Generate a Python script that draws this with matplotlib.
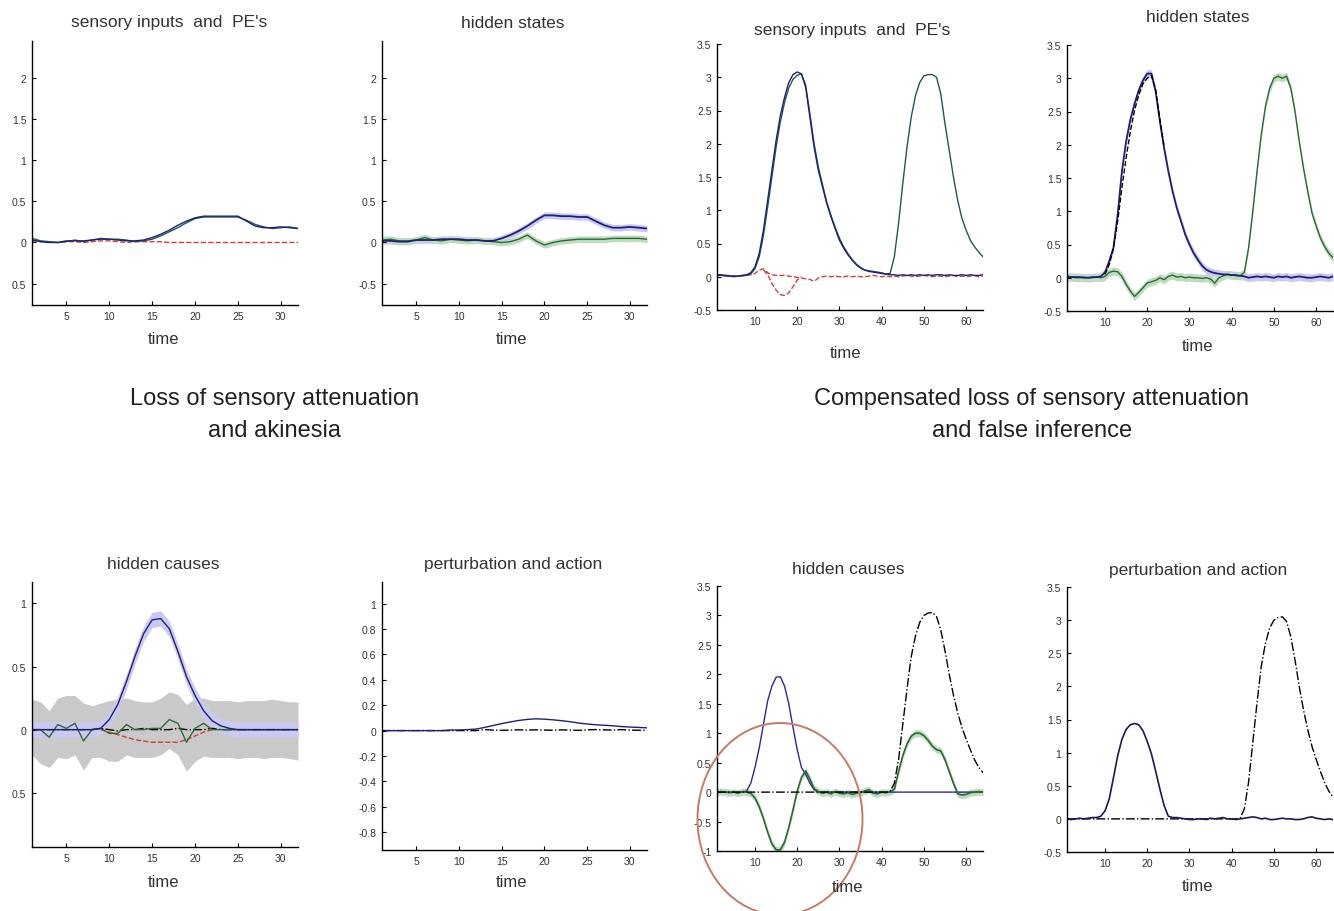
import numpy as np
import matplotlib
matplotlib.use("Agg")
import matplotlib.pyplot as plt
from matplotlib.patches import Ellipse
from matplotlib.ticker import FuncFormatter
from matplotlib import font_manager

plt.rcParams['font.family'] = ['Liberation Sans', 'DejaVu Sans']
plt.rcParams['axes.unicode_minus'] = False

W, H = 1334, 912

# time bins
t_left = np.arange(1, 33)
t_right = np.arange(1, 65)

# ---------------- left: loss of sensory attenuation and akinesia ----------------
# sensory inputs and PE's
sens_l_a = [0.03, 0.01, 0.00, 0.00, 0.02, 0.02, 0.02, 0.03,
            0.04, 0.04, 0.03, 0.02, 0.02, 0.03, 0.06, 0.10,
            0.15, 0.21, 0.26, 0.30, 0.32, 0.32, 0.32, 0.32,
            0.32, 0.26, 0.20, 0.18, 0.18, 0.19, 0.18, 0.17]
sens_l_b = [0.05, 0.02, 0.01, 0.00, 0.01, 0.03, 0.01, 0.03,
            0.05, 0.04, 0.04, 0.03, 0.01, 0.02, 0.04, 0.08,
            0.13, 0.18, 0.24, 0.29, 0.31, 0.31, 0.31, 0.31,
            0.31, 0.27, 0.22, 0.19, 0.17, 0.18, 0.19, 0.17]
pe_l = [0.02, 0.01, 0.01, 0.00, 0.01, 0.01, 0.00, 0.01,
        0.02, 0.02, 0.01, 0.00, 0.01, 0.01, 0.01, 0.01,
        0.00, 0.00, 0.00, 0.00, 0.00, 0.00, 0.00, 0.00,
        0.00, 0.00, 0.00, 0.00, 0.00, 0.00, 0.00, 0.00]

# hidden states
hs_l_blue = [0.02, 0.02, 0.01, 0.01, 0.03, 0.03, 0.03, 0.04,
             0.04, 0.04, 0.03, 0.03, 0.02, 0.02, 0.05, 0.09,
             0.14, 0.20, 0.27, 0.33, 0.33, 0.32, 0.32, 0.31,
             0.31, 0.26, 0.21, 0.18, 0.18, 0.19, 0.18, 0.17]
hs_l_green = [0.03, 0.04, 0.02, 0.02, 0.03, 0.06, 0.03, 0.02,
              0.04, 0.03, 0.02, 0.03, 0.02, 0.01, 0.00, 0.01,
              0.04, 0.09, 0.02, -0.03, 0.00, 0.02, 0.03, 0.04,
              0.04, 0.04, 0.04, 0.05, 0.05, 0.05, 0.05, 0.04]
hs_l_ci = 0.04

# hidden causes
hc_l_blue = [0.00, 0.00, 0.00, 0.00, 0.00, 0.00, 0.00, 0.00,
             0.01, 0.08, 0.20, 0.38, 0.58, 0.76, 0.87, 0.88,
             0.80, 0.62, 0.42, 0.27, 0.15, 0.07, 0.03, 0.01,
             0.00, 0.00, 0.00, 0.00, 0.00, 0.00, 0.00, 0.00]
hc_l_blue_ci = 0.06
hc_l_green = [0.00, 0.00, -0.06, 0.04, 0.01, 0.05, -0.09, 0.00,
              0.01, -0.03, -0.03, 0.04, 0.00, 0.00, 0.01, 0.01,
              0.08, 0.05, -0.10, 0.01, 0.05, 0.00, 0.00, 0.00,
              0.00, 0.00, 0.00, 0.00, 0.00, 0.00, 0.00, 0.00]
hc_l_grey_hi = [0.24, 0.22, 0.15, 0.25, 0.27, 0.27, 0.21, 0.19,
                0.21, 0.23, 0.24, 0.25, 0.23, 0.22, 0.22, 0.25,
                0.30, 0.28, 0.20, 0.25, 0.25, 0.23, 0.23, 0.23,
                0.22, 0.23, 0.23, 0.23, 0.24, 0.23, 0.22, 0.22]
hc_l_grey_lo = [-0.20, -0.27, -0.30, -0.22, -0.23, -0.20, -0.32, -0.22,
                -0.22, -0.25, -0.25, -0.20, -0.22, -0.22, -0.22, -0.20,
                -0.15, -0.20, -0.33, -0.25, -0.21, -0.22, -0.22, -0.22,
                -0.23, -0.22, -0.22, -0.23, -0.22, -0.22, -0.23, -0.24]
t_hc_l_pe = np.arange(9, 23)
hc_l_pe = [0.00, -0.02, -0.04, -0.06, -0.08, -0.09, -0.10,
           -0.10, -0.10, -0.10, -0.08, -0.05, -0.02, 0.00]
hc_l_true = [0.00, 0.00, 0.00, 0.00, 0.00, 0.00, 0.00, 0.00,
             0.01, 0.00, -0.01, 0.00, 0.00, 0.01, 0.00, 0.00,
             0.00, 0.01, 0.00, 0.00, 0.00, 0.01, 0.00, 0.00,
             0.00, 0.00, 0.00, 0.00, 0.00, 0.00, 0.00, 0.00]

# perturbation and action
pa_l_action = [0.000, 0.000, 0.000, 0.000, 0.000, 0.000, 0.000, 0.000,
               0.005, 0.005, 0.008, 0.012, 0.025, 0.040, 0.055, 0.068,
               0.080, 0.088, 0.093, 0.090, 0.085, 0.078, 0.070, 0.060,
               0.052, 0.046, 0.042, 0.038, 0.032, 0.028, 0.025, 0.022]
pa_l_pert = [0.000, 0.000, 0.000, 0.000, 0.000, 0.000, 0.000, 0.000,
             0.000, 0.000, 0.000, 0.000, 0.008, 0.004, 0.002, 0.004,
             0.006, 0.004, 0.006, 0.004, 0.003, 0.006, 0.004, 0.002,
             0.006, 0.008, 0.006, 0.004, 0.008, 0.004, 0.003, 0.002]

# ---------------- right: compensated loss and false inference ----------------
sens_r_blue = [0.03, 0.03, 0.02, 0.01, 0.01, 0.01, 0.02, 0.03,
               0.06, 0.15, 0.35, 0.70, 1.15, 1.60, 2.05, 2.42,
               2.70, 2.92, 3.04, 3.08, 3.05, 2.85, 2.40, 1.95,
               1.60, 1.35, 1.10, 0.90, 0.72, 0.55, 0.43, 0.33,
               0.25, 0.18, 0.13, 0.10, 0.08, 0.07, 0.06, 0.05,
               0.04, 0.03, 0.03, 0.02, 0.03, 0.02, 0.03, 0.02,
               0.03, 0.02, 0.03, 0.02, 0.03, 0.03, 0.02, 0.03,
               0.02, 0.02, 0.03, 0.02, 0.03, 0.02, 0.02, 0.03]
sens_r_green = [0.02, 0.02, 0.01, 0.01, 0.00, 0.01, 0.02, 0.02,
                0.04, 0.12, 0.30, 0.62, 1.05, 1.50, 1.95, 2.33,
                2.62, 2.84, 2.97, 3.03, 3.05, 2.88, 2.45, 2.00,
                1.65, 1.38, 1.12, 0.92, 0.74, 0.58, 0.45, 0.35,
                0.26, 0.19, 0.14, 0.10, 0.09, 0.08, 0.07, 0.06,
                0.04, 0.05, 0.30, 0.80, 1.40, 1.95, 2.40, 2.72,
                2.92, 3.02, 3.04, 3.04, 3.00, 2.75, 2.30, 1.90,
                1.50, 1.15, 0.88, 0.70, 0.55, 0.45, 0.37, 0.30]
pe_r_a = [0.03, 0.03, 0.02, 0.02, 0.01, 0.01, 0.01, 0.02,
          0.03, 0.05, 0.10, 0.12, 0.06, 0.03, 0.02, 0.02,
          0.02, 0.01, 0.00, -0.01, -0.02, -0.03, -0.04, -0.07,
          -0.02, 0.00, 0.01, 0.00, 0.01, 0.00, 0.00, 0.01,
          0.00, 0.01, 0.00, 0.00, 0.01, 0.02, 0.01, 0.00,
          0.01, 0.00, 0.01, 0.00, 0.01, 0.02, 0.01, 0.00,
          0.01, 0.02, 0.01, 0.00, 0.01, 0.01, 0.00, 0.01,
          0.02, 0.00, 0.01, 0.00, 0.01, 0.02, 0.00, 0.01]
t_pe_r_b = np.arange(12, 22)
pe_r_b = [0.10, 0.03, -0.10, -0.20, -0.27, -0.28, -0.24, -0.15, -0.05, 0.00]

hs_r_blue = [0.02, 0.01, 0.01, 0.01, 0.00, 0.00, 0.01, 0.01,
             0.02, 0.08, 0.25, 0.45, 0.95, 1.60, 2.05, 2.38,
             2.62, 2.82, 2.97, 3.07, 3.07, 2.80, 2.35, 1.95,
             1.60, 1.30, 1.05, 0.85, 0.65, 0.50, 0.37, 0.27,
             0.18, 0.12, 0.09, 0.07, 0.06, 0.05, 0.05, 0.04,
             0.04, 0.03, 0.02, 0.00, 0.01, 0.02, 0.01, 0.02,
             0.01, 0.00, 0.02, 0.01, 0.02, 0.00, 0.01, 0.02,
             0.01, 0.00, 0.00, 0.01, 0.02, 0.01, 0.00, 0.02]
t_hs_r_dash = np.arange(10, 25)
hs_r_dash = [0.05, 0.20, 0.45, 0.85, 1.35, 1.80, 2.20, 2.52,
             2.75, 2.92, 3.00, 3.04, 2.82, 2.38, 1.97]
hs_r_green = [0.00, 0.01, 0.00, 0.00, 0.01, 0.00, 0.00, 0.01,
              0.00, 0.02, 0.08, 0.10, 0.09, 0.02, -0.10, -0.20,
              -0.28, -0.22, -0.15, -0.08, -0.06, -0.04, 0.00, -0.03,
              0.02, 0.04, 0.01, 0.02, 0.00, 0.01, 0.00, 0.00,
              -0.01, 0.00, -0.02, -0.08, 0.00, 0.03, 0.05, 0.04,
              0.03, 0.03, 0.08, 0.45, 1.00, 1.60, 2.15, 2.58,
              2.85, 3.00, 3.03, 3.00, 3.03, 2.85, 2.50, 2.05,
              1.65, 1.30, 0.98, 0.78, 0.60, 0.47, 0.37, 0.30]
hs_r_ci = 0.06

hc_r_blue = [0.00, 0.00, 0.00, 0.00, 0.00, 0.00, 0.00, 0.02,
             0.15, 0.42, 0.75, 1.15, 1.55, 1.80, 1.95, 1.96,
             1.80, 1.50, 1.10, 0.72, 0.42, 0.30, 0.15, 0.04,
             0.00, 0.00, 0.00, 0.00, 0.00, 0.00, 0.00, 0.00,
             0.00, 0.00, 0.00, 0.00, 0.00, 0.00, 0.00, 0.00,
             0.00, 0.00, 0.00, 0.00, 0.00, 0.00, 0.00, 0.00,
             0.00, 0.00, 0.00, 0.00, 0.00, 0.00, 0.00, 0.00,
             0.00, 0.00, 0.00, 0.00, 0.00, 0.00, 0.00, 0.00]
hc_r_green = [0.00, 0.01, 0.00, -0.01, 0.00, -0.02, 0.01, 0.00,
              -0.02, -0.10, -0.25, -0.45, -0.68, -0.88, -0.98, -0.98,
              -0.85, -0.60, -0.30, 0.02, 0.25, 0.36, 0.22, 0.06,
              0.01, -0.02, 0.00, -0.03, 0.01, -0.02, -0.03, -0.01,
              -0.04, -0.02, -0.01, 0.02, 0.04, -0.02, -0.03, 0.00,
              -0.01, 0.00, 0.05, 0.35, 0.62, 0.82, 0.95, 1.00,
              1.00, 0.96, 0.88, 0.78, 0.72, 0.70, 0.55, 0.35,
              0.15, -0.03, -0.05, -0.04, -0.01, 0.00, 0.01, 0.00]
hc_r_ci = 0.06
cause_r = [0.00, 0.00, 0.00, 0.00, 0.00, 0.00, 0.00, 0.00,
           0.00, 0.00, 0.00, 0.00, 0.00, 0.00, 0.00, 0.00,
           0.00, 0.00, 0.00, 0.00, 0.00, 0.00, 0.00, 0.00,
           0.00, 0.00, 0.00, 0.00, 0.00, 0.00, 0.00, 0.00,
           0.00, 0.00, 0.00, 0.00, 0.00, 0.00, 0.00, 0.00,
           0.00, 0.01, 0.15, 0.55, 1.15, 1.75, 2.30, 2.65,
           2.88, 3.00, 3.04, 3.05, 2.98, 2.75, 2.40, 2.00,
           1.65, 1.35, 1.10, 0.90, 0.72, 0.55, 0.42, 0.33]
pa_r_action = [0.00, -0.01, 0.00, 0.01, 0.00, 0.01, 0.02, 0.02,
               0.04, 0.12, 0.30, 0.62, 0.95, 1.20, 1.35, 1.42,
               1.44, 1.42, 1.33, 1.17, 0.98, 0.72, 0.45, 0.20,
               0.04, 0.02, 0.02, 0.01, 0.00, -0.01, -0.01, 0.00,
               0.00, -0.01, 0.01, 0.00, 0.01, 0.02, 0.00, 0.00,
               -0.01, 0.00, 0.01, 0.02, 0.03, 0.02, 0.00, 0.01,
               -0.01, -0.01, 0.00, 0.01, 0.00, 0.00, -0.01, -0.01,
               0.00, 0.02, 0.03, 0.01, 0.00, -0.01, 0.00, -0.01]

# ticks
xt_left = [5, 10, 15, 20, 25, 30]
xt_right = [10, 20, 30, 40, 50, 60]
yt_top_left = [-0.5, 0, 0.5, 1, 1.5, 2]
yt_top_left_lbl = ['0.5', '0', '0.5', '1', '1.5', '2']
yt_hs_left_lbl = ['-0.5', '0', '0.5', '1', '1.5', '2']
yt_hc_left = [-0.5, 0, 0.5, 1]
yt_hc_left_lbl = ['0.5', '0', '0.5', '1']
yt_pa_left = [-0.8, -0.6, -0.4, -0.2, 0, 0.2, 0.4, 0.6, 0.8, 1]
yt_right = [-0.5, 0, 0.5, 1, 1.5, 2, 2.5, 3, 3.5]
yt_hc_right = [-1, -0.5, 0, 0.5, 1, 1.5, 2, 2.5, 3, 3.5]

titles = ["sensory inputs  and  PE's", "hidden states",
          "sensory inputs  and  PE's", "hidden states",
          "hidden causes", "perturbation and action",
          "hidden causes", "perturbation and action"]
group_labels = ["Loss of sensory attenuation\nand akinesia",
                "Compensated loss of sensory attenuation\nand false inference"]

NAVY = '#1f1f7a'
GREEN = '#2b6a33'
TEAL = '#1d5a50'
RED = '#d2403a'
LBLUE = '#c9c9f2'
LGREEN = '#bfdcbf'
GREY = '#c9c9c9'
TXT = '#333333'

fig = plt.figure(figsize=(W / 100, H / 100), dpi=100)


def add_ax(l, t, r, b):
    return fig.add_axes([l / W, 1 - b / H, (r - l) / W, (b - t) / H])


def style(ax, xlim, ylim, xticks, yticks, ylabels=None):
    ax.set_xlim(xlim)
    ax.set_ylim(ylim)
    ax.set_xticks(xticks)
    ax.set_yticks(yticks)
    if ylabels is not None:
        ax.set_yticklabels(ylabels)
    else:
        ax.yaxis.set_major_formatter(FuncFormatter(lambda v, p: f"{v:g}"))
    for s in ['top', 'right']:
        ax.spines[s].set_visible(False)
    for s in ['left', 'bottom']:
        ax.spines[s].set_linewidth(1.0)
        ax.spines[s].set_color('black')
    ax.tick_params(direction='in', length=3, width=0.8, labelsize=7.5,
                   labelcolor=TXT, pad=4)


def ftext(x, y, s, **kw):
    fig.text(x / W, 1 - y / H, s, ha='center', va='center', **kw)


# panel boxes in pixels (left, top, right, bottom)
ax1 = add_ax(32, 42, 298, 306)
ax2 = add_ax(382, 42, 647, 306)
ax3 = add_ax(717, 45, 983, 311)
ax4 = add_ax(1067, 46, 1333, 312)
ax5 = add_ax(32, 583, 298, 848)
ax6 = add_ax(382, 583, 647, 851)
ax7 = add_ax(717, 587, 983, 852)
ax8 = add_ax(1067, 588, 1333, 853)

lw = 1.0

# 1 sensory inputs (left)
ax1.plot(t_left, pe_l, '--', color=RED, lw=lw)
ax1.plot(t_left, sens_l_b, color=TEAL, lw=lw)
ax1.plot(t_left, sens_l_a, color=NAVY, lw=lw)
style(ax1, (1, 32), (-0.76, 2.45), xt_left, yt_top_left, yt_top_left_lbl)

# 2 hidden states (left)
hb = np.array(hs_l_blue)
hg = np.array(hs_l_green)
ax2.fill_between(t_left, hb - hs_l_ci, hb + hs_l_ci, color=LBLUE, lw=0)
ax2.fill_between(t_left, hg - hs_l_ci, hg + hs_l_ci, color=LGREEN, lw=0)
ax2.plot(t_left, hg, color=GREEN, lw=lw)
ax2.plot(t_left, hb, color=NAVY, lw=lw + 0.3)
style(ax2, (1, 32), (-0.76, 2.45), xt_left, yt_top_left, yt_hs_left_lbl)

# 3 sensory inputs (right)
ax3.plot(t_right, pe_r_a, '--', color=RED, lw=lw)
ax3.plot(t_pe_r_b, pe_r_b, '--', color=RED, lw=lw)
ax3.plot(t_right, sens_r_green, color=TEAL, lw=lw)
ax3.plot(t_right, sens_r_blue, color=NAVY, lw=lw)
style(ax3, (1, 64), (-0.5, 3.5), xt_right, yt_right)

# 4 hidden states (right)
hb = np.array(hs_r_blue)
hg = np.array(hs_r_green)
ax4.fill_between(t_right, hb - hs_r_ci, hb + hs_r_ci, color=LBLUE, lw=0)
ax4.fill_between(t_right, hg - hs_r_ci, hg + hs_r_ci, color=LGREEN, lw=0)
ax4.plot(t_right, hg, color=GREEN, lw=lw)
ax4.plot(t_right, hb, color=NAVY, lw=lw + 0.3)
ax4.plot(t_hs_r_dash, hs_r_dash, '--', color='black', lw=lw)
style(ax4, (1, 64), (-0.5, 3.5), xt_right, yt_right)

# 5 hidden causes (left)
cb = np.array(hc_l_blue)
ax5.fill_between(t_left, hc_l_grey_lo, hc_l_grey_hi, color=GREY, lw=0)
ax5.fill_between(t_left, cb - hc_l_blue_ci, cb + hc_l_blue_ci, color=LBLUE, lw=0)
ax5.plot(t_left, hc_l_true, '-.', color='black', lw=lw)
ax5.plot(t_hc_l_pe, hc_l_pe, '--', color=RED, lw=lw)
ax5.plot(t_left, hc_l_green, color=GREEN, lw=lw)
ax5.plot(t_left, cb, color=NAVY, lw=lw)
style(ax5, (1, 32), (-0.93, 1.17), xt_left, yt_hc_left, yt_hc_left_lbl)

# 6 perturbation and action (left)
ax6.plot(t_left, pa_l_pert, '-.', color='black', lw=lw)
ax6.plot(t_left, pa_l_action, color=NAVY, lw=lw)
style(ax6, (1, 32), (-0.94, 1.17), xt_left, yt_pa_left)

# 7 hidden causes (right)
cg = np.array(hc_r_green)
ax7.fill_between(t_right, cg - hc_r_ci, cg + hc_r_ci, color=LGREEN, lw=0)
ax7.plot(t_right, hc_r_blue, color='#2a2aa0', lw=lw)
ax7.plot(t_right, cg, color=GREEN, lw=lw + 0.2)
ax7.plot(t_right, cause_r, '-.', color='black', lw=lw)
style(ax7, (1, 64), (-1, 3.5), xt_right, yt_hc_right)

# 8 perturbation and action (right)
ax8.plot(t_right, cause_r, '-.', color='black', lw=lw)
ax8.plot(t_right, pa_r_action, color='#1a1a55', lw=lw + 0.2)
style(ax8, (1, 64), (-0.5, 3.5), xt_right, yt_right)

# titles and x labels
title_pos = [(169, 23), (513, 23), (852, 30), (1198, 18),
             (163, 565), (513, 565), (848, 570), (1198, 570)]
xlabel_pos = [(163, 340), (512, 340), (845, 353), (1197, 347),
              (163, 883), (512, 883), (848, 888), (1197, 887)]
for s, (x, y) in zip(titles, title_pos):
    ftext(x, y, s, fontsize=12.5, color=TXT)
for x, y in xlabel_pos:
    ftext(x, y, 'time', fontsize=12, color=TXT)

# group labels
names = {f.name for f in font_manager.fontManager.ttflist}
if 'Liberation Sans Narrow' in names:
    gfam, gsize, gls = ['Liberation Sans Narrow', 'DejaVu Sans'], 20, 1.4
else:
    gfam, gsize, gls = ['Liberation Sans', 'DejaVu Sans'], 17, 1.6
ftext(275, 415, group_labels[0], fontsize=gsize, family=gfam,
      linespacing=gls, color='#222222')
ftext(1032, 415, group_labels[1], fontsize=gsize, family=gfam,
      linespacing=gls, color='#222222')

# red circle highlighting the false inference
fig.add_artist(Ellipse((780 / W, 1 - 820 / H), 165 / W, 192 / H,
                       transform=fig.transFigure, fill=False,
                       edgecolor='#c87a62', lw=1.4))

fig.savefig('out.png', dpi=100)
